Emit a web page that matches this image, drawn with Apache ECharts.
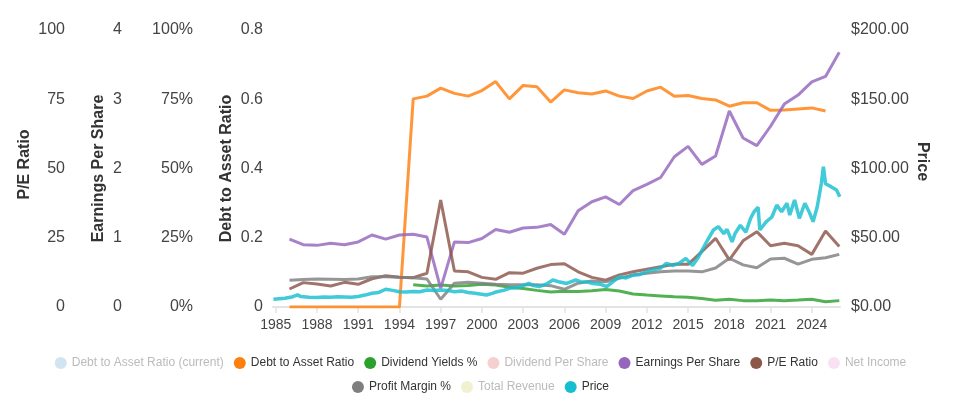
<!DOCTYPE html>
<html>
<head>
<meta charset="utf-8">
<script src="https://cdn.jsdelivr.net/npm/echarts@6/dist/echarts.min.js"></script>
<style>
html,body{margin:0;padding:0;background:#fff;}
#chart{width:961px;height:400px;}
</style>
</head>
<body>
<div id="chart"></div>
<script>
// ---- Data ----
const years = [1986,1987,1988,1989,1990,1991,1992,1993,1994,1995,1996,1997,1998,1999,2000,2001,2002,2003,2004,2005,2006,2007,2008,2009,2010,2011,2012,2013,2014,2015,2016,2017,2018,2019,2020,2021,2022,2023,2024,2025,2026];

const debtToAsset = [0,0,0,0,0,0,0,0,0,0.601,0.609,0.632,0.617,0.609,0.625,0.651,0.601,0.640,0.636,0.592,0.627,0.619,0.615,0.624,0.609,0.602,0.624,0.635,0.609,0.611,0.602,0.598,0.580,0.590,0.590,0.568,0.569,0.572,0.575,0.566,null];

const dividendYield = [null,null,null,null,null,null,null,null,null,8.0,7.6,7.9,7.6,7.8,8.2,7.9,7.1,6.7,6.0,5.4,5.7,5.6,5.9,6.3,5.8,4.7,4.3,4.0,3.7,3.5,3.1,2.4,2.8,2.3,2.3,2.5,2.3,2.5,2.8,1.9,2.3];

const eps = [0.98,0.90,0.89,0.92,0.90,0.94,1.04,0.98,1.04,1.05,1.01,0.27,0.94,0.93,0.99,1.12,1.08,1.14,1.15,1.19,1.05,1.39,1.52,1.59,1.48,1.68,1.77,1.87,2.17,2.32,2.06,2.18,2.83,2.44,2.33,2.61,2.93,3.06,3.25,3.33,3.68];

const peRatio = [6.5,8.8,8.3,7.6,8.9,8.2,10.2,11.3,10.7,10.6,12.2,38.6,13.0,12.7,10.7,10.0,12.4,12.2,14.0,15.3,15.6,12.7,10.7,9.7,11.6,12.7,13.6,14.5,15.4,15.4,20.0,24.8,17.0,23.9,27.2,22.1,23.0,22.1,19.0,27.4,21.8];

const profitMargin = [9.7,9.9,10.1,10.0,9.9,10.1,10.9,10.9,10.7,10.6,10.1,2.8,8.6,8.9,8.6,8.2,8.0,8.0,8.0,7.7,6.4,8.6,9.4,9.1,10.4,11.6,12.2,12.7,13.0,13.0,12.7,14.1,17.6,15.2,14.2,17.3,17.6,15.5,17.2,17.8,19.0];

const priceDates = ['1984-11-01','1985-04-01','1985-09-01','1986-03-01','1986-08-01','1986-11-01','1987-06-01','1988-01-01','1988-07-01','1989-01-01','1989-07-01','1990-01-01','1990-07-01','1991-01-01','1991-07-01','1992-01-01','1992-07-01','1993-01-01','1993-07-01','1994-01-01','1994-07-01','1995-01-01','1995-07-01','1996-01-01','1996-07-01','1997-01-01','1997-07-01','1998-01-01','1998-07-01','1999-01-01','1999-07-01','2000-05-01','2000-10-01','2001-02-01','2001-08-01','2002-01-01','2002-08-01','2003-06-01','2003-10-01','2004-03-01','2004-09-01','2005-03-01','2005-09-01','2006-03-01','2006-11-01','2007-03-01','2007-09-01','2008-02-01','2008-08-01','2009-02-01','2009-07-01','2010-01-01','2010-07-01','2011-01-01','2011-07-01','2012-01-01','2012-07-01','2013-01-01','2013-06-01','2013-12-01','2014-05-01','2014-11-01','2015-05-01','2015-10-01','2016-05-25','2016-11-05','2017-03-15','2017-08-08','2017-11-01','2018-03-15','2018-06-01','2018-10-20','2019-03-15','2019-07-20','2019-10-20','2020-02-05','2020-03-20','2020-09-10','2021-02-05','2021-06-15','2021-10-20','2022-03-15','2022-05-25','2022-10-01','2023-02-05','2023-07-01','2023-10-20','2024-02-05','2024-05-25','2024-09-10','2024-11-05','2025-01-01','2025-05-25','2025-10-20','2026-01-15'];
const priceValues = [5.6,6.0,6.3,7.2,8.7,7.5,7.0,6.8,7.2,7.0,7.4,7.2,7.0,7.6,8.6,9.9,10.5,12.8,12.0,11.0,10.8,11.2,11.0,12.3,12.0,12.3,12.0,11.0,11.5,10.5,10.0,8.7,9.8,11.0,12.0,13.5,14.0,17.0,15.5,14.7,16.5,19.5,18.0,17.0,19.5,18.3,18.0,17.0,16.5,14.7,18.0,21.9,21.0,23.0,23.5,25.5,27.0,28.0,31.5,30.0,31.5,35.0,30.0,36.0,48.0,55.6,58.0,53.0,56.0,47.0,53.0,59.0,54.0,64.0,68.8,72.0,55.6,61.6,65.0,73.6,68.8,74.9,66.4,77.3,64.0,74.9,68.8,61.6,72.4,89.0,101.3,89.0,86.9,84.5,79.6];

const xTickYears = [1985,1988,1991,1994,1997,2000,2003,2006,2009,2012,2015,2018,2021,2024];
const xStart = '1984-10-20';
const xEnd = '2026-01-20';

// ---- Build options ----
// dates -> fractional years for the value-type x axis
function yearFrac(s) {
  const p = s.split('-').map(Number);
  const start = Date.UTC(p[0], 0, 1), end = Date.UTC(p[0] + 1, 0, 1);
  return p[0] + (Date.UTC(p[0], p[1] - 1, p[2]) - start) / (end - start);
}
const toPairs = arr => years.map((y, i) => [y, arr[i]]);
const pricePairs = priceDates.map((d, i) => [yearFrac(d), priceValues[i]]);

const FONT = 'Liberation Sans, Arial, sans-serif';
const labelStyle = { fontSize: 16, color: '#444', fontFamily: FONT };
const nameStyle = { fontSize: 16, fontWeight: 'bold', color: '#333', fontFamily: FONT };

function yAx(o) {
  return Object.assign({
    type: 'value',
    position: 'left',
    splitLine: { show: false },
    axisLine: { show: false },
    axisTick: { show: false },
    nameLocation: 'middle',
    nameMoveOverlap: false,
    axisLabel: Object.assign({ margin: 10 }, labelStyle)
  }, o);
}

const fade = (c) => ({ itemStyle: { color: c }, textStyle: { color: '#bbb' } });

const legendBase = {
  left: 'center',
  icon: 'circle',
  itemWidth: 12,
  itemHeight: 14,
  itemGap: 10,
  textStyle: { fontSize: 12, color: '#333' }
};

const option = {
  animation: false,
  color: ['#1f77b4','#ff7f0e','#2ca02c','#d62728','#9467bd','#8c564b','#e377c2','#7f7f7f','#bcbd22','#17becf'],
  textStyle: { fontFamily: FONT },
  grid: { left: 273, right: 121, top: 30, bottom: 93, containLabel: false },
  legend: [
    Object.assign({}, legendBase, {
      top: 352,
      data: [
        Object.assign({ name: 'Debt to Asset Ratio (current)' }, fade('rgba(31,119,180,0.2)')),
        { name: 'Debt to Asset Ratio' },
        { name: 'Dividend Yields %' },
        Object.assign({ name: 'Dividend Per Share' }, fade('rgba(214,39,40,0.22)')),
        { name: 'Earnings Per Share' },
        { name: 'P/E Ratio' },
        Object.assign({ name: 'Net Income' }, fade('rgba(227,119,194,0.22)'))
      ]
    }),
    Object.assign({}, legendBase, {
      top: 376,
      data: [
        { name: 'Profit Margin %' },
        Object.assign({ name: 'Total Revenue' }, fade('rgba(188,189,34,0.22)')),
        { name: 'Price' }
      ]
    })
  ],
  xAxis: {
    type: 'value',
    min: yearFrac(xStart),
    max: yearFrac(xEnd),
    splitLine: { show: false },
    axisLine: { show: true, lineStyle: { color: '#e3e3e3', width: 2 } },
    axisTick: { show: true, customValues: xTickYears, length: 6, lineStyle: { color: '#e3e3e3', width: 1.5 } },
    axisLabel: {
      customValues: xTickYears,
      fontSize: 14, color: '#444', margin: 11, fontFamily: FONT,
      formatter: v => String(v)
    }
  },
  yAxis: [
    yAx({ name: 'Debt to Asset Ratio', min: 0, max: 0.8, interval: 0.2, offset: 0, nameGap: 38, nameTextStyle: nameStyle }),
    yAx({ min: 0, max: 100, interval: 25, offset: 70, axisLabel: Object.assign({ margin: 10, formatter: '{value}%' }, labelStyle) }),
    yAx({ name: 'Earnings Per Share', min: 0, max: 4, interval: 1, offset: 141, nameGap: 25, nameTextStyle: nameStyle }),
    yAx({ name: 'P/E Ratio', min: 0, max: 100, interval: 25, offset: 198, nameGap: 42,
          nameTextStyle: Object.assign({ padding: [0, 0, 0, 8] }, nameStyle) }),
    yAx({ name: 'Price', position: 'right', min: 0, max: 200, interval: 50, offset: 0, nameGap: 74, nameRotate: -90,
          nameTextStyle: Object.assign({ padding: [0, 14, 0, 0] }, nameStyle),
          axisLabel: Object.assign({ margin: 11, formatter: v => '$' + v.toFixed(2) }, labelStyle) })
  ],
  series: [
    { name: 'Debt to Asset Ratio (current)', type: 'line', yAxisIndex: 0, data: [], showSymbol: false },
    { name: 'Debt to Asset Ratio', type: 'line', yAxisIndex: 0, data: toPairs(debtToAsset), showSymbol: false, lineStyle: { width: 3, opacity: 0.82 } },
    { name: 'Dividend Yields %', type: 'line', yAxisIndex: 1, data: toPairs(dividendYield), showSymbol: false, lineStyle: { width: 3, opacity: 0.82 } },
    { name: 'Dividend Per Share', type: 'line', yAxisIndex: 0, data: [], showSymbol: false },
    { name: 'Earnings Per Share', type: 'line', yAxisIndex: 2, data: toPairs(eps), showSymbol: false, lineStyle: { width: 3, opacity: 0.82 } },
    { name: 'P/E Ratio', type: 'line', yAxisIndex: 3, data: toPairs(peRatio), showSymbol: false, lineStyle: { width: 3, opacity: 0.82 } },
    { name: 'Net Income', type: 'line', yAxisIndex: 0, data: [], showSymbol: false },
    { name: 'Profit Margin %', type: 'line', yAxisIndex: 1, data: toPairs(profitMargin), showSymbol: false, lineStyle: { width: 3, opacity: 0.82 } },
    { name: 'Total Revenue', type: 'line', yAxisIndex: 0, data: [], showSymbol: false },
    { name: 'Price', type: 'line', yAxisIndex: 4, data: pricePairs, showSymbol: false, lineStyle: { width: 3.5, opacity: 0.82 } }
  ]
};

const chart = echarts.init(document.getElementById('chart'), null, { renderer: 'canvas' });
chart.setOption(option);
</script>
</body>
</html>
